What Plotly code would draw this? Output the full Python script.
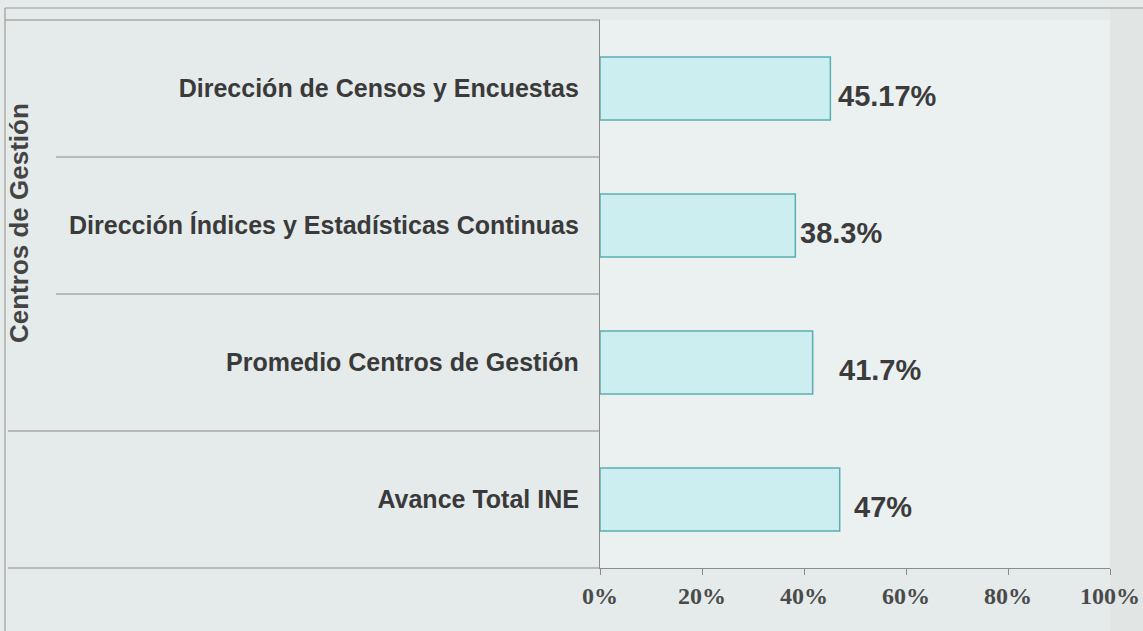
import plotly.graph_objects as go

categories = [
    "Dirección de Censos y Encuestas",
    "Dirección Índices y Estadísticas Continuas",
    "Promedio Centros de Gestión",
    "Avance Total INE",
]
values = [45.17, 38.3, 41.7, 47.0]
value_labels = ["45.17%", "38.3%", "41.7%", "47%"]
tick_vals = [0, 20, 40, 60, 80, 100]
tick_text = ["0%", "20%", "40%", "60%", "80%", "100%"]
axis_title = "Centros de Gestión"

# style: horizontal offset (px) of each value label from its bar end
label_xshift = [6, 3, 24, 12]

W, H = 1143, 631
L, R, T, B = 600, 33, 20, 63
pw = W - L - R
ph = H - T - B

def px_x(px):
    return (px - L) / pw

def px_y(py):
    return (H - B - py) / ph

fig = go.Figure()
fig.add_trace(go.Bar(
    x=values, y=categories, orientation="h", width=0.46,
    marker=dict(color="#cdeef1", line=dict(color="#5aaeb0", width=1.5)),
    hoverinfo="skip",
))

annotations = []
for c, v, t, dx in zip(categories, values, value_labels, label_xshift):
    annotations.append(dict(
        x=v, y=c, xref="x", yref="y", text="<b>" + t + "</b>", showarrow=False,
        xanchor="left", yanchor="middle", xshift=dx, yshift=-7,
        font=dict(family="Liberation Sans, Arial", size=29, color="#3b3b3b"),
    ))
annotations.append(dict(
    x=px_x(19), y=px_y(223), xref="paper", yref="paper",
    text="<b>" + axis_title + "</b>", showarrow=False, textangle=-90,
    xanchor="center", yanchor="middle",
    font=dict(family="Liberation Sans, Arial", size=26, color="#444444"),
))

shapes = []
line_col = "#8e8a86"
for i, yb in enumerate([0.5, 1.5, 2.5]):
    x0 = px_x(56) if i < 2 else px_x(8)
    shapes.append(dict(type="line", xref="paper", yref="y", x0=x0, x1=0, y0=yb, y1=yb,
                       line=dict(color=line_col, width=1.2)))
shapes.append(dict(type="line", xref="paper", yref="paper", x0=px_x(8), x1=0, y0=0, y1=0,
                   line=dict(color=line_col, width=1.2)))
shapes.append(dict(type="line", xref="paper", yref="paper", x0=px_x(5), x1=0, y0=1, y1=1,
                   line=dict(color=line_col, width=1.2)))
shapes.append(dict(type="line", xref="paper", yref="paper", x0=px_x(5), x1=px_x(1143),
                   y0=px_y(8), y1=px_y(8), line=dict(color="#a09a94", width=1.2)))
shapes.append(dict(type="line", xref="paper", yref="paper", x0=px_x(5), x1=px_x(5),
                   y0=px_y(631), y1=px_y(8), line=dict(color="#a09a94", width=1.2)))
shapes.append(dict(type="rect", xref="paper", yref="paper", x0=1, x1=px_x(1143),
                   y0=px_y(631), y1=px_y(9), line=dict(width=0), fillcolor="#e1e5e4", layer="below"))

fig.update_layout(
    width=W, height=H,
    margin=dict(l=L, r=R, t=T, b=B, autoexpand=False),
    paper_bgcolor="#e5ebeb",
    plot_bgcolor="#ebf1f1",
    showlegend=False,
    annotations=annotations,
    shapes=shapes,
    xaxis=dict(
        range=[0, 100], tickvals=tick_vals, ticktext=["<b>" + t + "</b>" for t in tick_text],
        showgrid=False, zeroline=False, showline=True, linecolor=line_col, linewidth=1.2,
        ticks="outside", ticklen=6, tickcolor=line_col, automargin=False,
        tickfont=dict(family="Liberation Serif, Times New Roman", size=24, color="#4a4a4a"),
        fixedrange=True,
    ),
    yaxis=dict(
        autorange="reversed", showgrid=False, zeroline=False,
        showline=True, linecolor=line_col, linewidth=1.2, ticks="", automargin=False,
        ticklabelstandoff=15,
        ticktext=["<b>" + c + "</b>" for c in categories], tickvals=categories,
        tickfont=dict(family="Liberation Sans, Arial", size=25, color="#3a3a3a"),
        fixedrange=True,
    ),
)

fig.write_html(
    "out.html",
    config={"displayModeBar": False},
    post_script="document.body.style.margin='0';document.body.style.background='#e5ebeb';",
)
